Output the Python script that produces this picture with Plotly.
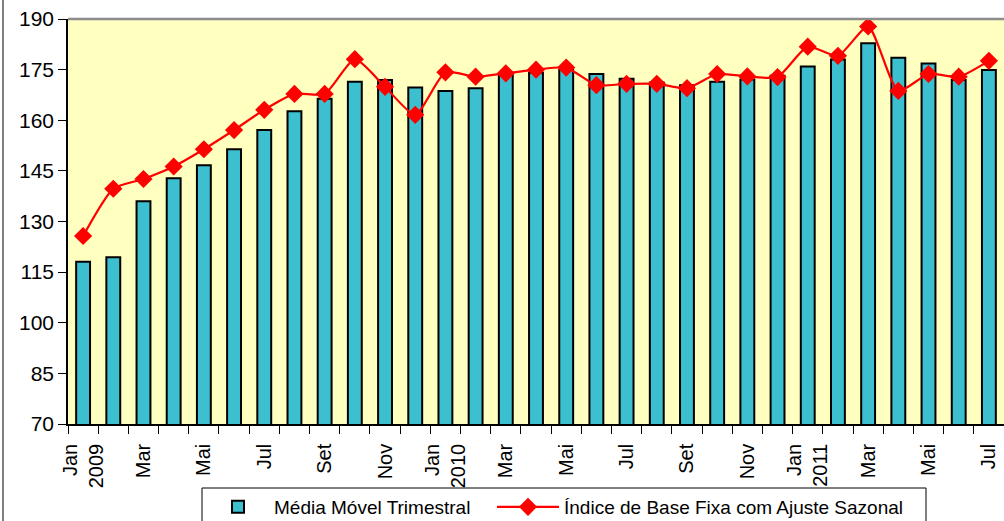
import plotly.graph_objects as go

months = ["Jan 2009", "Fev 2009", "Mar 2009", "Abr 2009", "Mai 2009", "Jun 2009",
          "Jul 2009", "Ago 2009", "Set 2009", "Out 2009", "Nov 2009", "Dez 2009",
          "Jan 2010", "Fev 2010", "Mar 2010", "Abr 2010", "Mai 2010", "Jun 2010",
          "Jul 2010", "Ago 2010", "Set 2010", "Out 2010", "Nov 2010", "Dez 2010",
          "Jan 2011", "Fev 2011", "Mar 2011", "Abr 2011", "Mai 2011", "Jun 2011",
          "Jul 2011"]

media_movel = [118.1, 119.4, 136.0, 142.8, 146.7, 151.4,
               157.1, 162.7, 166.4, 171.4, 171.9, 169.7,
               168.7, 169.5, 173.4, 174.1, 174.9, 173.7,
               172.3, 171.2, 170.4, 171.4, 172.1, 173.2,
               175.9, 178.0, 182.8, 178.5, 176.8, 171.9,
               174.9]

indice_ajuste = [125.7, 139.7, 142.6, 146.3, 151.4, 157.1,
                 163.1, 167.8, 167.8, 178.1, 169.9, 161.6,
                 174.2, 172.9, 173.9, 175.0, 175.6, 170.4,
                 170.8, 170.8, 169.5, 173.7, 173.0, 172.8,
                 181.8, 179.1, 187.8, 168.7, 173.7, 172.9,
                 177.6]

tick_positions = [0, 2, 4, 6, 8, 10, 12, 14, 16, 18, 20, 22, 24, 26, 28, 30]
tick_labels = ["Jan<br>2009", "Mar", "Mai", "Jul", "Set", "Nov",
               "Jan<br>2010", "Mar", "Mai", "Jul", "Set", "Nov",
               "Jan<br>2011", "Mar", "Mai", "Jul"]

y_ticks = [70, 85, 100, 115, 130, 145, 160, 175, 190]

x = list(range(len(months)))

FONT = "Liberation Sans, Arial, sans-serif"

fig = go.Figure()
fig.add_trace(go.Bar(
    x=x, y=media_movel, name="Média Móvel Trimestral",
    width=0.46, base=0,
    marker=dict(color="#3cbfcf", line=dict(color="#000000", width=2)),
    hovertext=months, legend="legend",
))
fig.add_trace(go.Scatter(
    x=x, y=indice_ajuste, name="Índice de Base Fixa com Ajuste Sazonal",
    mode="lines+markers",
    line=dict(color="#ff0000", width=2.2, shape="spline", smoothing=0.6),
    marker=dict(symbol="diamond", size=14, color="#ff0000"),
    hovertext=months, legend="legend2",
))

W, H = 1004, 521
ML, MR, MT, MB = 68, 0, 19, 97
pw = W - ML - MR
ph = H - MT - MB

def px_to_paper_x(px):
    return (px - ML) / pw

def px_to_paper_y(py):
    return (H - MB - py) / ph

legend_common = dict(
    orientation="h",
    y=px_to_paper_y(488), xanchor="left", yanchor="top",
    bgcolor="rgba(0,0,0,0)", borderwidth=0,
    font=dict(size=19, family=FONT),
)

fig.update_layout(
    width=W, height=H,
    margin=dict(l=ML, r=MR, t=MT, b=MB, pad=0, autoexpand=False),
    paper_bgcolor="#ffffff",
    plot_bgcolor="#ffffc0",
    font=dict(family=FONT, color="#000000"),
    showlegend=True,
    legend=dict(x=px_to_paper_x(202), itemwidth=62, **legend_common),
    legend2=dict(x=px_to_paper_x(492), itemwidth=62, **legend_common),
    xaxis=dict(
        range=[-0.5, len(months) - 0.5],
        tickmode="array", tickvals=tick_positions, ticktext=tick_labels,
        tickangle=-90, ticks="",
        tickfont=dict(size=20, family=FONT),
        ticklabelstandoff=10,
        showgrid=False, zeroline=False,
        showline=True, linecolor="#000000", linewidth=1.5,
        minor=dict(tick0=-0.5, dtick=1, ticks="outside", ticklen=8,
                   tickcolor="#000000", tickwidth=1, showgrid=False),
        automargin=False,
        fixedrange=True,
    ),
    yaxis=dict(
        range=[70, 190],
        tickmode="array", tickvals=y_ticks,
        ticks="outside", ticklen=8, tickcolor="#000000", tickwidth=1,
        tickfont=dict(size=21, family=FONT),
        showgrid=False, zeroline=False,
        showline=True, linecolor="#000000", linewidth=1.5,
        automargin=False,
        fixedrange=True,
    ),
    shapes=[
        dict(type="line", xref="paper", yref="paper", x0=0, x1=1, y0=1, y1=1,
             line=dict(color="#8c8c8c", width=2.5)),
        dict(type="line", xref="paper", yref="paper",
             x0=px_to_paper_x(3), x1=px_to_paper_x(3),
             y0=px_to_paper_y(0), y1=px_to_paper_y(H),
             line=dict(color="#000000", width=1)),
        dict(type="rect", xref="paper", yref="paper",
             x0=px_to_paper_x(202), x1=px_to_paper_x(926),
             y0=px_to_paper_y(488), y1=px_to_paper_y(H + 10),
             line=dict(color="#000000", width=1), fillcolor="#ffffff"),
    ],
)

fig.write_html(
    "out.html",
    config={"displayModeBar": False},
    post_script="document.body.style.margin='0';document.body.style.overflow='hidden';",
)
